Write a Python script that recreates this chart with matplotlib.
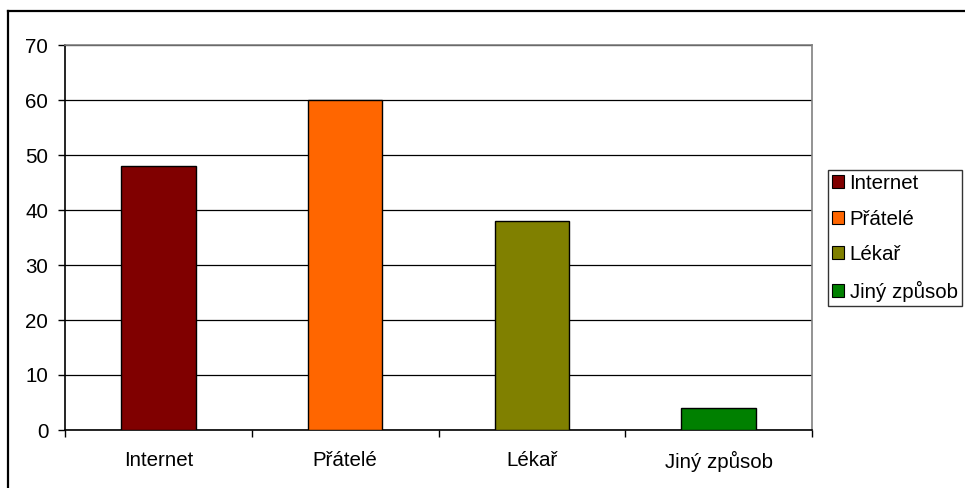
import matplotlib.pyplot as plt
from matplotlib.patches import Patch
from matplotlib.lines import Line2D

categories = ["Internet", "Přátelé", "Lékař", "Jiný způsob"]
values = [48, 60, 38, 4]
colors = ["#800000", "#FF6600", "#808000", "#008000"]
y_ticks = [0, 10, 20, 30, 40, 50, 60, 70]

plt.rcParams['font.family'] = ['Liberation Sans', 'DejaVu Sans']

W, H = 965, 488
fig = plt.figure(figsize=(W / 100, H / 100), dpi=100)
ax = fig.add_axes([65 / W, 1 - 430 / H, (812 - 65) / W, (430 - 45) / H])

xs = list(range(len(categories)))
ax.bar(xs, values, width=0.40, color=colors, edgecolor="black", linewidth=1.0, zorder=3)

ax.set_xlim(-0.5, len(categories) - 0.5)
ax.set_ylim(0, 70)
ax.set_yticks(y_ticks)
ax.yaxis.grid(True, color="black", linewidth=0.9, zorder=0)

ax.set_xticks(xs)
ax.set_xticklabels(categories)
ax.set_xticks([x - 0.5 for x in range(len(categories) + 1)], minor=True)
ax.tick_params(axis="x", which="major", length=0, pad=15, labelsize=14.8)
ax.tick_params(axis="x", which="minor", length=5, width=1, color="black")
ax.tick_params(axis="y", length=5, width=1, pad=7, labelsize=14.8)

ax.spines["left"].set_color("black")
ax.spines["bottom"].set_color("black")
ax.spines["top"].set_color("#808080")
ax.spines["right"].set_color("#808080")
for s in ax.spines.values():
    s.set_linewidth(1.2)

handles = [Patch(facecolor=c, edgecolor="black", linewidth=0.8) for c in colors]
leg = fig.legend(handles, categories, loc="upper left",
                 bbox_to_anchor=(828 / W, 1 - 170 / H),
                 fontsize=14.8, frameon=True, fancybox=False,
                 edgecolor="black", handlelength=0.6, handleheight=0.6,
                 handletextpad=0.25, labelspacing=0.8, borderpad=0.2,
                 borderaxespad=0)
leg.get_frame().set_linewidth(1.0)

# outer chart frame (runs off the right and bottom edges)
fig.add_artist(Line2D([8 / W, 8 / W], [0, 1 - 11 / H], color="black", linewidth=1.6))
fig.add_artist(Line2D([8 / W, 1], [1 - 11 / H, 1 - 11 / H], color="black", linewidth=1.6))

fig.savefig("out.png", dpi=100)
